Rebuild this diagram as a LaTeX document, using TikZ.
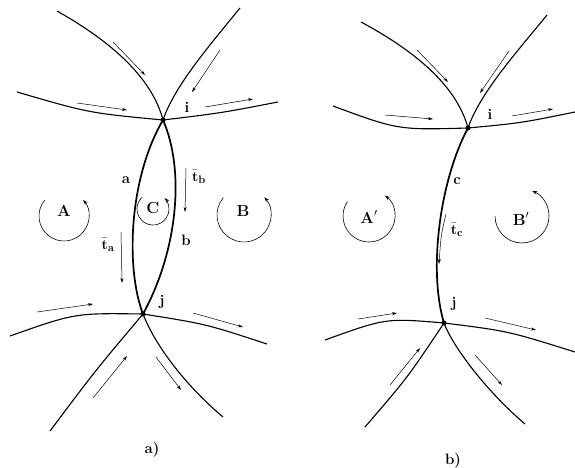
\documentclass[tikz,border=0pt]{standalone}
\usetikzlibrary{arrows.meta}
\begin{document}
\begin{tikzpicture}[x=1pt,y=-1pt,
  bnd/.style={line width=1.1pt},
  edgeline/.style={line width=1.7pt},
  flow/.style={line width=0.5pt,-{Stealth[length=5pt,width=3pt]}},
  rot/.style={line width=0.6pt,-{Stealth[length=5pt,width=3.5pt]}},
  vtx/.style={circle,fill,inner sep=0pt,minimum size=5pt},
  lbl/.style={font=\fontsize{15}{17}\selectfont,inner sep=1pt},
  boldlbl/.style={font=\fontsize{15}{17}\selectfont\bfseries,inner sep=1pt},
  biglbl/.style={font=\fontsize{16}{18}\selectfont\bfseries,inner sep=1pt},
  panellbl/.style={font=\fontsize{15}{17}\selectfont\bfseries,inner sep=1pt}]
\useasboundingbox (0,0) rectangle (575,468);

% ---------------- panel a ----------------
\coordinate (ai) at (163,120);
\coordinate (aj) at (143,314);
\coordinate (aUL) at (57,11);
\coordinate (aUR) at (240,8);
\coordinate (aHL) at (17,92);
\coordinate (aHR) at (278,102);
\coordinate (aLL) at (10,336);
\coordinate (aLR) at (267,344);
\coordinate (aBL) at (50,431);
\coordinate (aBR) at (223,417);

\draw[bnd] (aUL) .. controls (112,42) and (152,78) .. (ai);
\draw[bnd] (aUR) .. controls (210,45) and (175,85) .. (ai);
\draw[bnd] (aHL) .. controls (89,113) .. (ai);
\draw[bnd] (ai) .. controls (221,113) .. (aHR);
\draw[bnd] (aLL) .. controls (75,313) .. (aj);
\draw[bnd] (aj) .. controls (206,324) .. (aLR);
\draw[bnd] (aBL) .. controls (95,371) .. (aj);
\draw[bnd] (aj) .. controls (155,345) and (185,385) .. (aBR);

\draw[edgeline] (ai) .. controls (128,180) and (126,270) .. (aj);
\draw[edgeline] (ai) .. controls (185,170) and (178,250) .. (aj);

\node[vtx] (ai1) at (ai) {};
\node[vtx] (aj1) at (aj) {};

% flow arrows
\coordinate (fa1s) at (113,42);  \coordinate (fa1e) at (145,75);
\coordinate (fa2s) at (220,50);  \coordinate (fa2e) at (192,92);
\coordinate (fa3s) at (77,103);  \coordinate (fa3e) at (127,110);
\coordinate (fa4s) at (205,107); \coordinate (fa4e) at (253,99);
\coordinate (fa5s) at (37,312);  \coordinate (fa5e) at (93,304);
\coordinate (fa6s) at (193,313); \coordinate (fa6e) at (243,327);
\coordinate (fa7s) at (93,398);  \coordinate (fa7e) at (127,356);
\coordinate (fa8s) at (156,357); \coordinate (fa8e) at (181,390);
\draw[flow] (fa1s) -- (fa1e);
\draw[flow] (fa2s) -- (fa2e);
\draw[flow] (fa3s) -- (fa3e);
\draw[flow] (fa4s) -- (fa4e);
\draw[flow] (fa5s) -- (fa5e);
\draw[flow] (fa6s) -- (fa6e);
\draw[flow] (fa7s) -- (fa7e);
\draw[flow] (fa8s) -- (fa8e);

% tangent arrows
\coordinate (tas) at (121,232); \coordinate (tae) at (122,283);
\coordinate (tbs) at (186,168); \coordinate (tbe) at (185,212);
\draw[flow] (tas) -- (tae);
\draw[flow] (tbs) -- (tbe);

% rotation circles
\coordinate (cA) at (64,216);
\coordinate (cC) at (153,209);
\coordinate (cB) at (244,215);
\draw[rot] ([shift={(-141:25)}]cA) arc[start angle=-141,end angle=-400,radius=25];
\draw[rot] ([shift={(-132:16)}]cC) arc[start angle=-132,end angle=-403,radius=16];
\draw[rot] ([shift={(-140:27)}]cB) arc[start angle=-140,end angle=-401,radius=27];

\node[biglbl] (lA) at (64,211) {A};
\node[biglbl] (lC) at (153,208) {C};
\node[biglbl] (lB) at (243,211) {B};
\node[boldlbl] (li1) at (187,107) {i};
\node[boldlbl] (lj1) at (162,302) {j};
\node[boldlbl] (la) at (126,180) {a};
\node[boldlbl] (lb) at (186,240) {b};
\node[lbl] (lta) at (108,245) {$\bar{\mathbf t}_{\mathbf a}$};
\node[lbl] (ltb) at (199,177) {$\bar{\mathbf t}_{\mathbf b}$};
\node[panellbl] (pa) at (152,450) {a)};

% ---------------- panel b ----------------
\coordinate (bi) at (468,128);
\coordinate (bj) at (444,323);
\coordinate (bUL) at (361,22);
\coordinate (bUR) at (547,15);
\coordinate (bHL) at (333,106);
\coordinate (bHR) at (575,112);
\coordinate (bLL) at (325,340);
\coordinate (bLR) at (575,352);
\coordinate (bBL) at (365,427);
\coordinate (bBR) at (525,424);

\draw[bnd] (bUL) .. controls (417,52) and (457,87) .. (bi);
\draw[bnd] (bUR) .. controls (516,53) and (480,93) .. (bi);
\draw[bnd] (bHL) .. controls (398,130) .. (bi);
\draw[bnd] (bi) .. controls (521,123) .. (bHR);
\draw[bnd] (bLL) .. controls (386,318) .. (bj);
\draw[bnd] (bj) .. controls (508,331) .. (bLR);
\draw[bnd] (bBL) .. controls (408,377) .. (bj);
\draw[bnd] (bj) .. controls (452,345) and (485,390) .. (bBR);

\draw[edgeline] (bi) .. controls (440,180) and (428,270) .. (bj);

\node[vtx] (bi1) at (bi) {};
\node[vtx] (bj1) at (bj) {};

\coordinate (fb1s) at (417,50);  \coordinate (fb1e) at (448,82);
\coordinate (fb2s) at (509,51);  \coordinate (fb2e) at (480,93);
\coordinate (fb3s) at (385,115); \coordinate (fb3e) at (433,119);
\coordinate (fb4s) at (512,116); \coordinate (fb4e) at (553,109);
\coordinate (fb5s) at (358,319); \coordinate (fb5e) at (397,313);
\coordinate (fb6s) at (485,318); \coordinate (fb6e) at (536,330);
\coordinate (fb7s) at (390,385); \coordinate (fb7e) at (420,348);
\coordinate (fb8s) at (475,355); \coordinate (fb8e) at (502,385);
\draw[flow] (fb1s) -- (fb1e);
\draw[flow] (fb2s) -- (fb2e);
\draw[flow] (fb3s) -- (fb3e);
\draw[flow] (fb4s) -- (fb4e);
\draw[flow] (fb5s) -- (fb5e);
\draw[flow] (fb6s) -- (fb6e);
\draw[flow] (fb7s) -- (fb7e);
\draw[flow] (fb8s) -- (fb8e);

\coordinate (tcs) at (446,214); \coordinate (tce) at (439,264);
\draw[flow] (tcs) .. controls (441,235) .. (tce);

\coordinate (cAp) at (369,216);
\coordinate (cBp) at (522,216);
\draw[rot] ([shift={(-146:26)}]cAp) arc[start angle=-146,end angle=-412,radius=26];
\draw[rot] ([shift={(-180:27)}]cBp) arc[start angle=-180,end angle=-428,radius=27];

\node[biglbl] (lAp) at (369,217) {A$'$};
\node[biglbl] (lBp) at (521,219) {B$'$};
\node[boldlbl] (li2) at (490,114) {i};
\node[boldlbl] (lj2) at (454,304) {j};
\node[boldlbl] (lc) at (457,181) {c};
\node[lbl] (ltc) at (457,230) {$\bar{\mathbf t}_{\mathbf c}$};
\node[panellbl] (pb) at (453,461) {b)};
\end{tikzpicture}
\end{document}
